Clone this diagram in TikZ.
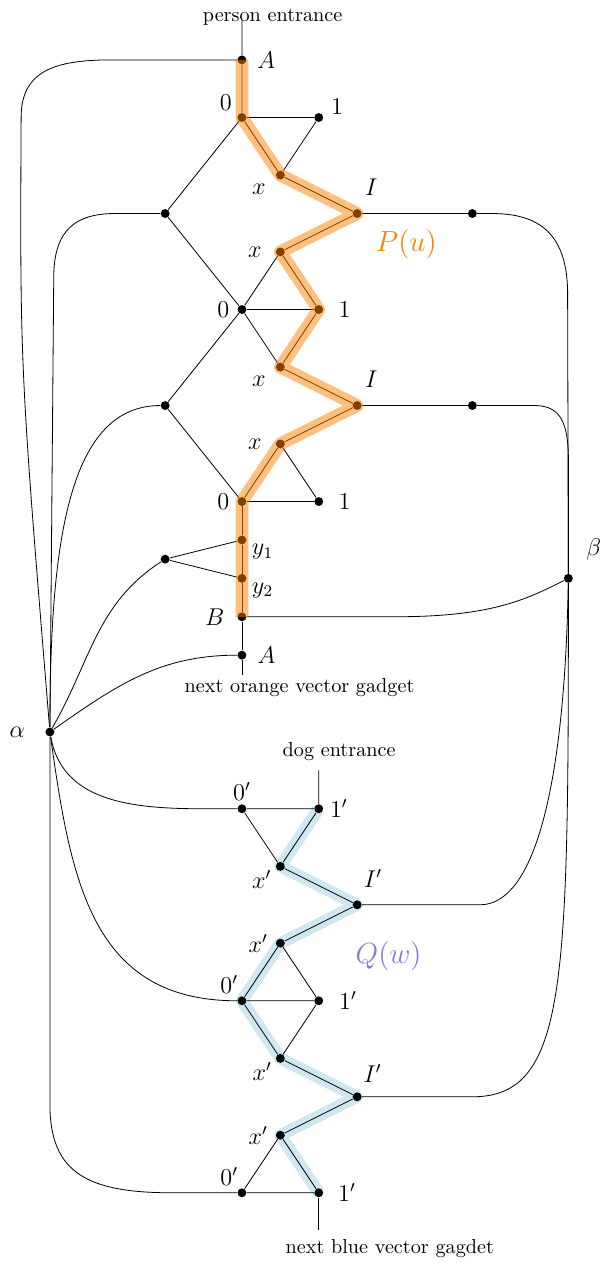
\documentclass[tikz,border=0pt]{standalone}
\usepackage{amsmath, amssymb}
\usepackage{tikz}
\usetikzlibrary{backgrounds}
\definecolor{pathorange}{RGB}{255,128,0}
\definecolor{pathblue}{RGB}{208,232,241}
\definecolor{qlabel}{RGB}{125,125,212}
\tikzset{
  vdot/.style={circle, fill=black, inner sep=0pt, minimum size=4.4pt},
  vlab/.style={font=\large, inner sep=1pt},
  gadtext/.style={font=\normalsize, inner sep=1pt},
  orangeband/.style={line width=6.3pt, pathorange, opacity=0.5, line join=round},
  blueband/.style={line width=6pt, pathblue, line join=round},
  pathname/.style={font=\Large}
}

\begin{document}
\begin{tikzpicture}[x=0.668cm, y=0.668cm]
  \useasboundingbox (-6.30,1.56) rectangle (9.35,-31.38);

  \node[gadtext] (pentr) at (0.8,1.12) {person entrance};
  \coordinate (pin) at (0,1.04);
  \node[vdot, label={[vlab, label distance=4pt]right:$A$}] (A) at (0,0) {};
  \node[vdot, label={[vlab, label distance=2pt]150:$0$}] (z1) at (0,-1.5) {};
  \node[vdot, label={[vlab, label distance=2.5pt]6:$1$}] (o1) at (2,-1.5) {};
  \node[vdot, label={[vlab, label distance=4.5pt]207:$x$}] (x1) at (1,-3) {};
  \node[vdot, label={[vlab, label distance=5.6pt]70:$I$}] (I1) at (3,-4) {};
  \node[vdot] (L1) at (-2,-4) {};
  \node[vdot] (R1) at (6,-4) {};
  \node[vdot, label={[vlab, label distance=5.7pt]left:$x$}] (x2) at (1,-5) {};
  \node[vdot, label={[vlab, label distance=2.7pt]left:$0$}] (z2) at (0,-6.5) {};
  \node[vdot, label={[vlab, label distance=6.2pt]right:$1$}] (o2) at (2,-6.5) {};
  \node[vdot, label={[vlab, label distance=4.5pt]207:$x$}] (x3) at (1,-8) {};
  \node[vdot, label={[vlab, label distance=5.6pt]70:$I$}] (I2) at (3,-9) {};
  \node[vdot] (L2) at (-2,-9) {};
  \node[vdot] (R2) at (6,-9) {};
  \node[vdot, label={[vlab, label distance=5.7pt]left:$x$}] (x4) at (1,-10) {};
  \node[vdot, label={[vlab, label distance=2.7pt]left:$0$}] (z3) at (0,-11.5) {};
  \node[vdot, label={[vlab, label distance=6.2pt]right:$1$}] (o3) at (2,-11.5) {};
  \node[vdot, label={[vlab, label distance=1.5pt]-15:$y_1$}] (y1) at (0,-12.5) {};
  \node[vdot, label={[vlab, label distance=1.5pt]-15:$y_2$}] (y2) at (0,-13.5) {};
  \node[vdot] (L3) at (-2,-13) {};
  \node[vdot, label={[vlab, label distance=5.1pt]left:$B$}] (B) at (0,-14.5) {};
  \node[vdot, label={[vlab, label distance=4.2pt]right:$A$}] (A2) at (0,-15.5) {};
  \coordinate (pout) at (0,-16.02);
  \node[gadtext] (onext) at (1.5,-16.35) {next orange vector gadget};
  \node[pathname, text=pathorange] (Pu) at (4.28,-4.8) {$P(u)$};

  \node[vdot, label={[vlab, label distance=8.8pt]left:$\alpha$}] (alpha) at (-5,-17.5) {};
  \node[vdot, label={[vlab, label distance=8.7pt]46:$\beta$}] (beta) at (8.5,-13.5) {};

  \node[gadtext] (dentr) at (2.53,-18.02) {dog entrance};
  \coordinate (din) at (2,-18.5);
  \node[vdot, label={[vlab, label distance=0.5pt]above:$0'$}] (zz1) at (0,-19.5) {};
  \node[vdot, label={[vlab, label distance=2pt]right:$1'$}] (oo1) at (2,-19.5) {};
  \node[vdot, label={[vlab, label distance=1pt]198:$x'$}] (xx1) at (1,-21) {};
  \node[vdot, label={[vlab, label distance=5.5pt]74:$I'$}] (II1) at (3,-22) {};
  \node[vdot, label={[vlab, label distance=2.6pt]left:$x'$}] (xx2) at (1,-23) {};
  \node[vdot, label={[vlab, label distance=0pt]108:$0'$}] (zz2) at (0,-24.5) {};
  \node[vdot, label={[vlab, label distance=6.5pt]right:$1'$}] (oo2) at (2,-24.5) {};
  \node[vdot, label={[vlab, label distance=0.8pt]195:$x'$}] (xx3) at (1,-26) {};
  \node[vdot, label={[vlab, label distance=4pt]72:$I'$}] (II2) at (3,-27) {};
  \node[vdot, label={[vlab, label distance=2.6pt]left:$x'$}] (xx4) at (1,-28) {};
  \node[vdot, label={[vlab, label distance=0pt]108:$0'$}] (zz3) at (0,-29.5) {};
  \node[vdot, label={[vlab, label distance=6pt]right:$1'$}] (oo3) at (2,-29.5) {};
  \coordinate (dout) at (2,-30.47);
  \node[gadtext] (bnext) at (3.85,-30.94) {next blue vector gagdet};
  \node[pathname, text=qlabel] (Qw) at (3.82,-23.33) {$Q(w)$};

  \begin{scope}[on background layer]
    \draw[blueband] (oo1.center) -- (xx1.center) -- (II1.center) -- (xx2.center) -- (zz2.center) -- (xx3.center) -- (II2.center) -- (xx4.center) -- (oo3.center);

    \draw (pin) -- (A) -- (z1) -- (o1) -- (x1) -- (z1);
    \draw (z1) -- (L1) -- (z2);
    \draw (x1) -- (I1) -- (x2);
    \draw (I1) -- (R1);
    \draw (z2) -- (x2) -- (o2) -- (z2) -- (x3) -- (o2);
    \draw (x3) -- (I2) -- (x4);
    \draw (I2) -- (R2);
    \draw (z2) -- (L2) -- (z3);
    \draw (z3) -- (x4) -- (o3) -- (z3);
    \draw (z3) -- (y1) -- (y2) -- (B) -- (A2) -- (pout);
    \draw (y1) -- (L3) -- (y2);

    \draw (A) -- (-3.4,0) .. controls (-4.9,0) and (-5.75,-0.3) .. (-5.75,-1.5) .. controls (-5.78,-8) .. (alpha);
    \draw (L1) -- (-3.3,-4) .. controls (-4.3,-4) and (-4.88,-4.4) .. (-4.9,-5.6) -- (alpha);
    \draw (L2) .. controls (-4.5,-9) and (-5,-12.5) .. (alpha);
    \draw (L3) to[out=213, in=60] (alpha);
    \draw (A2) to[out=180, in=35] (alpha);

    \draw (R1) -- (6.5,-4) .. controls (7.6,-4) and (8.45,-4.4) .. (8.48,-6) -- (beta);
    \draw (R2) -- (7.6,-9) .. controls (8.2,-9) and (8.48,-9.3) .. (8.5,-10.3) -- (beta);
    \draw (B) -- (4,-14.5) .. controls (6.5,-14.5) and (7.4,-14.05) .. (beta);

    \draw (din) -- (oo1) -- (zz1) -- (xx1) -- (oo1);
    \draw (xx1) -- (II1) -- (xx2);
    \draw (zz2) -- (xx2) -- (oo2) -- (zz2) -- (xx3) -- (oo2);
    \draw (xx3) -- (II2) -- (xx4);
    \draw (zz3) -- (xx4) -- (oo3) -- (zz3);
    \draw (oo3) -- (dout);

    \draw (alpha) to[out=-80, in=180] (zz1);
    \draw (alpha) to[out=-82, in=180, looseness=1.15] (zz2);
    \draw (alpha) -- (-5,-27.2) .. controls (-5,-29) and (-4,-29.5) .. (-1.8,-29.5) -- (zz3);

    \draw (beta) .. controls (8.4,-19) and (7.6,-22) .. (6.2,-22) -- (II1);
    \draw (beta) .. controls (8.5,-24) and (8.5,-27) .. (6,-27) -- (II2);
  \end{scope}

  \draw[orangeband] (A.center) -- (z1.center) -- (x1.center) -- (I1.center) -- (x2.center) -- (o2.center) -- (x3.center) -- (I2.center) -- (x4.center) -- (z3.center) -- (y1.center) -- (y2.center) -- (B.center);
\end{tikzpicture}
\end{document}
